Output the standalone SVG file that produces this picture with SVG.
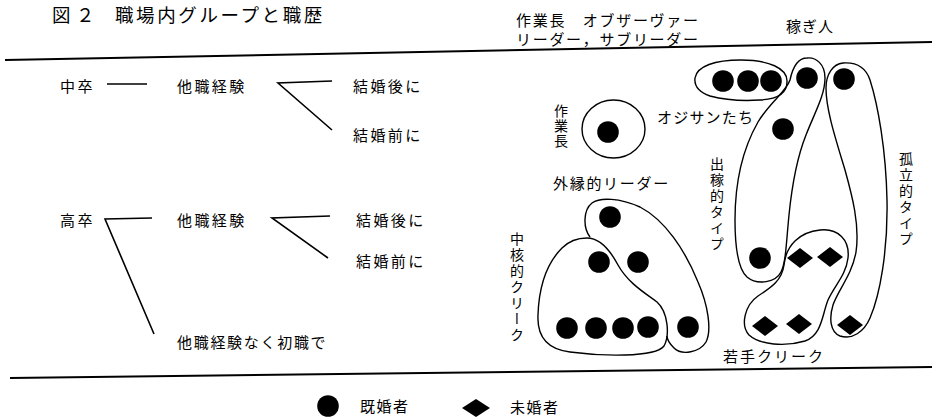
<svg xmlns="http://www.w3.org/2000/svg" width="932" height="418" viewBox="0 0 932 418">
<style>
text{font-family:"Noto Sans CJK JP","Noto Sans",sans-serif;fill:#000;font-size:15px}
.l{letter-spacing:2.4px}
.v{writing-mode:vertical-rl;font-size:14px;letter-spacing:2px}
.sh{fill:none;stroke:#000;stroke-width:1.4}
.cn{fill:none;stroke:#000;stroke-width:1.6}
.rule{fill:none;stroke:#000;stroke-width:2}
</style>
<defs>
<circle id="dot" r="10.8" fill="#000"/>
<path id="dia" d="M-13,0 L0,-10 L13,0 L0,10 Z" fill="#000"/>
</defs>
<rect width="932" height="418" fill="#fff"/>

<g id="title"><text y="21.5" style="font-size:18.5px"><tspan x="52">図</tspan><tspan x="76">２</tspan><tspan x="115" style="letter-spacing:2.6px">職場内グループと職歴</tspan></text></g>
<g id="header">
<text x="516" y="26" style="letter-spacing:1.7px">作業長　オブザーヴァー</text>
<text x="516" y="45" style="letter-spacing:1.7px">リーダー，サブリーダー</text>
<text x="786" y="32" style="letter-spacing:1px">稼ぎ人</text>
</g>
<g id="rules">
<line class="rule" x1="5" y1="60" x2="932" y2="42"/>
<line class="rule" x1="10" y1="378" x2="932" y2="367"/>
</g>

<g id="n-chusotsu"><text x="60" y="92" class="l">中卒</text></g>
<g id="n-tashoku1"><text x="177" y="92" class="l">他職経験</text></g>
<g id="n-kekkongo1"><text x="353" y="92" class="l">結婚後に</text></g>
<g id="n-kekkonzen1"><text x="353" y="141" class="l">結婚前に</text></g>
<g id="n-kousotsu"><text x="60" y="226" class="l">高卒</text></g>
<g id="n-tashoku2"><text x="177" y="226" class="l">他職経験</text></g>
<g id="n-kekkongo2"><text x="356" y="226" class="l">結婚後に</text></g>
<g id="n-kekkonzen2"><text x="356" y="267" class="l">結婚前に</text></g>
<g id="n-shoshoku"><text x="177" y="348" style="letter-spacing:1.7px">他職経験なく初職で</text></g>

<g id="connectors">
<line class="cn" x1="107" y1="84" x2="147" y2="84"/>
<polyline class="cn" points="332,81 278,83 332,130"/>
<polyline class="cn" points="152,218 105,219 154,334"/>
<polyline class="cn" points="330,216 272,218 328,258"/>
</g>

<g id="g-sagyocho">
<ellipse class="sh" cx="613.5" cy="129" rx="31.5" ry="29"/>
<use href="#dot" x="608" y="132"/>
<text x="561" y="104" class="v" style="letter-spacing:1px">作業長</text>
</g>
<g id="g-ojisan">
<path class="sh" d="M741,60 C768,60 788,68 787,82 C787,92 780,99 760,100 C745,101 725,100 710,96 C699,92 694,86 695,78 C697,66 715,60 741,60 Z"/>
<use href="#dot" x="723" y="81"/><use href="#dot" x="748" y="81"/><use href="#dot" x="771" y="81"/>
<text x="657" y="123" style="letter-spacing:1.2px">オジサンたち</text>
</g>
<g id="g-dekasegi">
<path class="sh" d="M807,58 C816,57 825,64 825,78 C825,95 815,112 806,135 C798,155 792,185 789,215 C786,245 786,262 781,272 C776,282 758,286 747,277 C737,268 735,245 735,220 C735,185 742,150 758,122 C770,102 786,92 790,80 C793,66 799,58 807,58 Z"/>
<use href="#dot" x="807" y="78"/><use href="#dot" x="783" y="129"/><use href="#dot" x="760" y="258"/>
<text x="717" y="157" class="v">出稼的タイプ</text>
</g>
<g id="g-koritsu">
<path class="sh" d="M843,63 C857,62 866,68 870,80 C878,105 886,150 887,200 C888,250 880,295 870,318 C864,332 852,340 840,336 C830,332 829,318 833,305 C838,290 852,275 856,252 C860,225 852,195 845,170 C836,140 826,110 826,88 C826,74 833,64 843,63 Z"/>
<use href="#dot" x="844" y="79"/>
<use href="#dia" x="850" y="325"/>
<text x="906" y="152" class="v">孤立的タイプ</text>
</g>
<g id="g-wakate">
<path class="sh" d="M820,230 C838,228 850,240 848,258 C846,275 835,285 828,300 C822,315 822,335 805,341 C785,347 760,345 749,335 C740,325 745,305 758,296 C772,287 782,280 784,265 C786,245 800,232 820,230 Z"/>
<use href="#dia" x="800" y="258"/><use href="#dia" x="830" y="257"/>
<use href="#dia" x="765" y="326"/><use href="#dia" x="799" y="324"/>
<text x="723" y="362" style="letter-spacing:2px">若手クリーク</text>
</g>
<g id="g-chukaku">
<path class="sh" d="M587,238 C600,238 610,250 618,265 C628,283 645,293 657,302 C668,312 670,335 664,346 C655,358 600,356 570,352 C545,349 537,335 538,315 C539,285 548,262 562,248 C570,240 578,238 587,238 Z"/>
<use href="#dot" x="599" y="262"/><use href="#dot" x="638" y="262"/>
<use href="#dot" x="567" y="328"/><use href="#dot" x="596" y="328"/><use href="#dot" x="623" y="328"/><use href="#dot" x="648" y="327"/>
<text x="517" y="232" class="v">中核的クリーク</text>
</g>
<g id="g-gaien">
<path class="sh" d="M590,237 C583,228 583,210 592,203 C600,197 620,198 640,207 C665,220 685,250 698,282 C708,305 712,330 706,342 C700,352 682,356 674,348 C670,344 667,340 667,336"/>
<use href="#dot" x="610" y="217"/><use href="#dot" x="688" y="327"/>
<text x="553" y="189" style="letter-spacing:1.7px">外縁的リーダー</text>
</g>

<g id="legend">
<use href="#dot" x="328" y="406"/>
<text x="360" y="412" style="letter-spacing:1.5px">既婚者</text>
<path d="M462,408 L476,399 L490,408 L476,417 Z" fill="#000"/>
<text x="510" y="413" style="letter-spacing:1.5px">未婚者</text>
</g>
</svg>
